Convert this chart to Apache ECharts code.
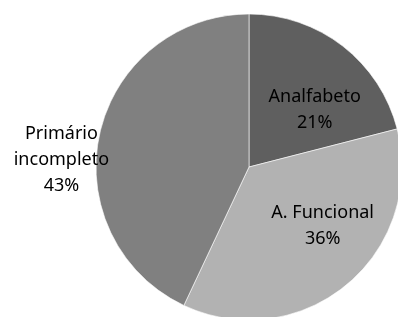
<!DOCTYPE html>
<html lang="pt">

<head>
    <meta charset="UTF-8">
    <title>Escolaridade</title>
    <script src="https://cdn.jsdelivr.net/npm/echarts@6/dist/echarts.min.js"></script>
    <style>
        html, body { margin: 0; padding: 0; background: #fff; }
        #chart { width: 398px; height: 317px; }
    </style>
</head>

<body>
    <div id="chart"></div>
    <script>
        // dados
        var categorias = ['Analfabeto', 'A. Funcional', 'Primário\nincompleto'];
        var valores = [21, 36, 43];

        // estilo por fatia
        var cores = ['#5f5f5f', '#b2b2b2', '#808080'];
        var deslocLabel = [[17, 6], [23, -2], [-110, 10]];

        var dados = [];
        for (var i = 0; i < categorias.length; i++) {
            dados.push({
                name: categorias[i],
                value: valores[i],
                itemStyle: { color: cores[i] }
            });
        }

        var myChart = echarts.init(document.getElementById('chart'));
        myChart.setOption({
            animation: false,
            series: [{
                type: 'pie',
                center: [249, 167],
                radius: 153,
                startAngle: 90,
                clockwise: true,
                data: dados,
                itemStyle: { borderColor: '#ffffff', borderWidth: 0.6 },
                label: {
                    position: 'inside',
                    formatter: '{b}\n{d}%',
                    fontFamily: 'Noto Sans',
                    fontSize: 18,
                    lineHeight: 26,
                    color: '#000',
                    align: 'center'
                },
                labelLine: { show: false },
                labelLayout: function (params) {
                    var d = deslocLabel[params.dataIndex];
                    return { dx: d[0], dy: d[1] };
                }
            }]
        });
    </script>
</body>

</html>
